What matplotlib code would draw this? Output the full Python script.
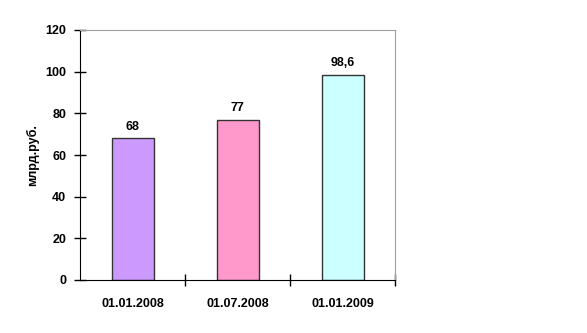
import matplotlib.pyplot as plt

plt.rcParams['font.family'] = ['Liberation Sans', 'DejaVu Sans']

dates = ["01.01.2008", "01.07.2008", "01.01.2009"]
values = [68, 77, 98.6]
labels = ["68", "77", "98,6"]
colors = ["#CC99FF", "#FF99CC", "#CCFFFF"]

fig = plt.figure(figsize=(5.87, 3.33), dpi=100)
ax = fig.add_axes([80 / 587, 53 / 333, 315 / 587, 250 / 333])

x = range(len(values))
bars = ax.bar(x, values, width=0.4, color=colors, edgecolor="#333333", linewidth=1)
for xi, v, lab in zip(x, values, labels):
    ax.annotate(lab, (xi, v), xytext=(0, 4), textcoords="offset points",
                ha="center", va="bottom", fontsize=9, fontweight="bold")

ax.set_xlim(-0.5, 2.5)
ax.set_ylim(0, 120)
ax.set_yticks(range(0, 121, 20))
ax.set_xticks([0.5, 1.5, 2.5], minor=False)
ax.set_xticks([0, 1, 2], minor=True)
ax.set_xticklabels([])
ax.set_xticklabels(dates, minor=True)
ax.tick_params(axis="x", which="major", direction="inout", length=8, width=1)
ax.tick_params(axis="x", which="minor", length=0, pad=13, labelsize=9)
ax.tick_params(axis="y", direction="inout", length=8, width=1, labelsize=9, pad=6)
for lab in ax.get_xticklabels(minor=True) + ax.get_yticklabels():
    lab.set_fontweight("bold")

ax.spines["top"].set_color("#A0A0A0")
ax.spines["right"].set_color("#A0A0A0")
ax.spines["left"].set_color("black")
ax.spines["bottom"].set_color("black")

ax.set_ylabel("млрд.руб.", fontsize=9, fontweight="bold", labelpad=4)

fig.savefig("out.png", dpi=100)
